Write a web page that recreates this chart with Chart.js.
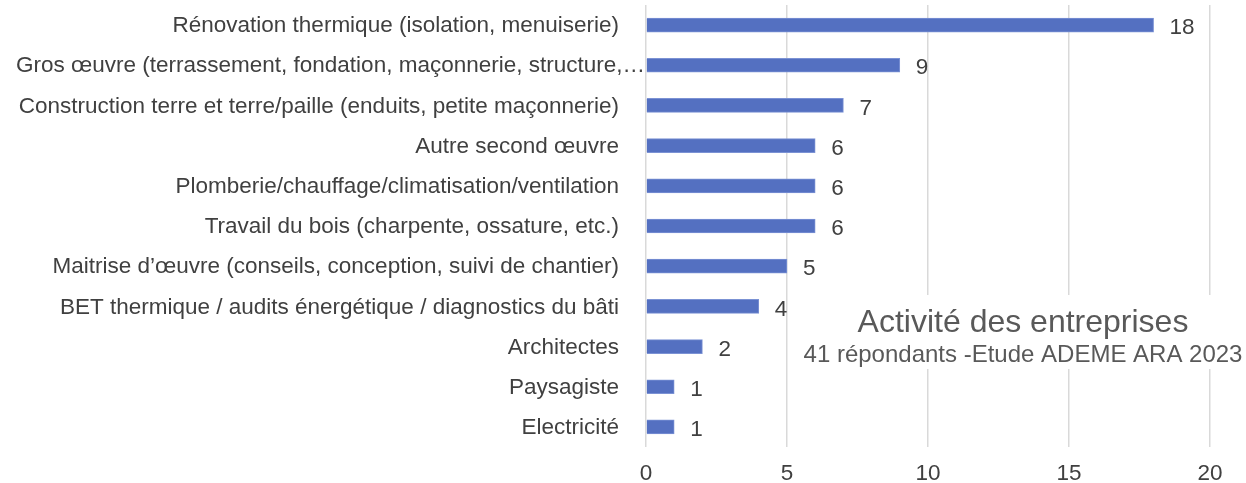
<!DOCTYPE html>
<html>
<head>
<meta charset="utf-8">
<script src="https://cdn.jsdelivr.net/npm/chart.js@4"></script>
<style>
  html, body { margin: 0; padding: 0; background: #fff; }
  #wrap { width: 1246px; height: 483px; }
</style>
</head>
<body>
<div id="wrap"><canvas id="chart" width="1246" height="483"></canvas></div>
<script>
// Chart data
const activities = [
  'Rénovation thermique (isolation, menuiserie)',
  'Gros œuvre (terrassement, fondation, maçonnerie, structure,…',
  'Construction terre et terre/paille (enduits, petite maçonnerie)',
  'Autre second œuvre',
  'Plomberie/chauffage/climatisation/ventilation',
  'Travail du bois (charpente, ossature, etc.)',
  'Maitrise d’œuvre (conseils, conception, suivi de chantier)',
  'BET thermique / audits énergétique / diagnostics du bâti',
  'Architectes',
  'Paysagiste',
  'Electricité'
];
const companyCounts = [18, 9, 7, 6, 6, 6, 5, 4, 2, 1, 1];
const xTicks = [0, 5, 10, 15, 20];
const chartTitle = 'Activité des entreprises';
const chartSubtitle = '41 répondants -Etude ADEME ARA 2023';

const textColor = '#404040';
const fontFamily = 'Arial, "Liberation Sans", sans-serif';

// Category labels: right aligned, long ones overflow to the right (like Excel)
const categoryLabels = {
  id: 'categoryLabels',
  afterDraw(chart) {
    const ctx = chart.ctx;
    const yScale = chart.scales.y;
    const right = chart.chartArea.left - 27;
    ctx.save();
    ctx.font = '22.5px ' + fontFamily;
    ctx.fillStyle = textColor;
    ctx.textAlign = 'left';
    ctx.textBaseline = 'middle';
    activities.forEach((label, i) => {
      const w = ctx.measureText(label).width;
      const x = Math.max(16, right - w);
      ctx.fillText(label, x, yScale.getPixelForTick(i) + 1);
    });
    ctx.restore();
  }
};

// Value labels next to each bar
const valueLabels = {
  id: 'valueLabels',
  afterDatasetsDraw(chart) {
    const ctx = chart.ctx;
    const meta = chart.getDatasetMeta(0);
    ctx.save();
    ctx.font = '22.5px ' + fontFamily;
    ctx.fillStyle = textColor;
    ctx.textAlign = 'left';
    ctx.textBaseline = 'middle';
    meta.data.forEach((bar, i) => {
      ctx.fillText(String(companyCounts[i]), bar.x + 16, bar.y + 3);
    });
    ctx.restore();
  }
};

// Title box drawn inside the plot area, over the gridlines
const innerTitle = {
  id: 'innerTitle',
  beforeDatasetsDraw(chart) {
    const ctx = chart.ctx;
    const cx = 1023;
    ctx.save();
    ctx.fillStyle = '#fff';
    ctx.fillRect(800, 295, 446, 74);
    ctx.fillStyle = '#595959';
    ctx.textAlign = 'center';
    ctx.textBaseline = 'middle';
    ctx.font = '32px ' + fontFamily;
    ctx.fillText(chartTitle, cx, 323);
    ctx.font = '24px ' + fontFamily;
    ctx.fillText(chartSubtitle, cx, 355);
    ctx.restore();
  }
};

new Chart(document.getElementById('chart'), {
  type: 'bar',
  data: {
    labels: activities,
    datasets: [{
      data: companyCounts,
      backgroundColor: '#5470c1',
      borderColor: '#7b92d4',
      borderWidth: 1,
      barThickness: 14
    }]
  },
  options: {
    indexAxis: 'y',
    responsive: false,
    animation: false,
    layout: { padding: { left: 0, right: 36, top: 5, bottom: 0 } },
    plugins: {
      legend: { display: false },
      tooltip: { enabled: false }
    },
    scales: {
      x: {
        min: 0,
        max: 20,
        afterBuildTicks(scale) {
          scale.ticks = xTicks.map(v => ({ value: v }));
        },
        afterFit(scale) {
          scale.height = 36;
          scale.paddingLeft = 0;
          scale.paddingRight = 0;
        },
        border: { display: false },
        grid: { color: '#d9d9d9', lineWidth: 1.5, tickLength: 0 },
        ticks: {
          color: textColor,
          padding: 13,
          font: { size: 22.5, family: fontFamily }
        }
      },
      y: {
        afterFit(scale) {
          scale.width = 646;
          scale.paddingTop = 0;
          scale.paddingBottom = 0;
        },
        border: { display: false },
        grid: { display: false },
        ticks: { display: false }
      }
    }
  },
  plugins: [innerTitle, valueLabels, categoryLabels]
});
</script>
</body>
</html>
